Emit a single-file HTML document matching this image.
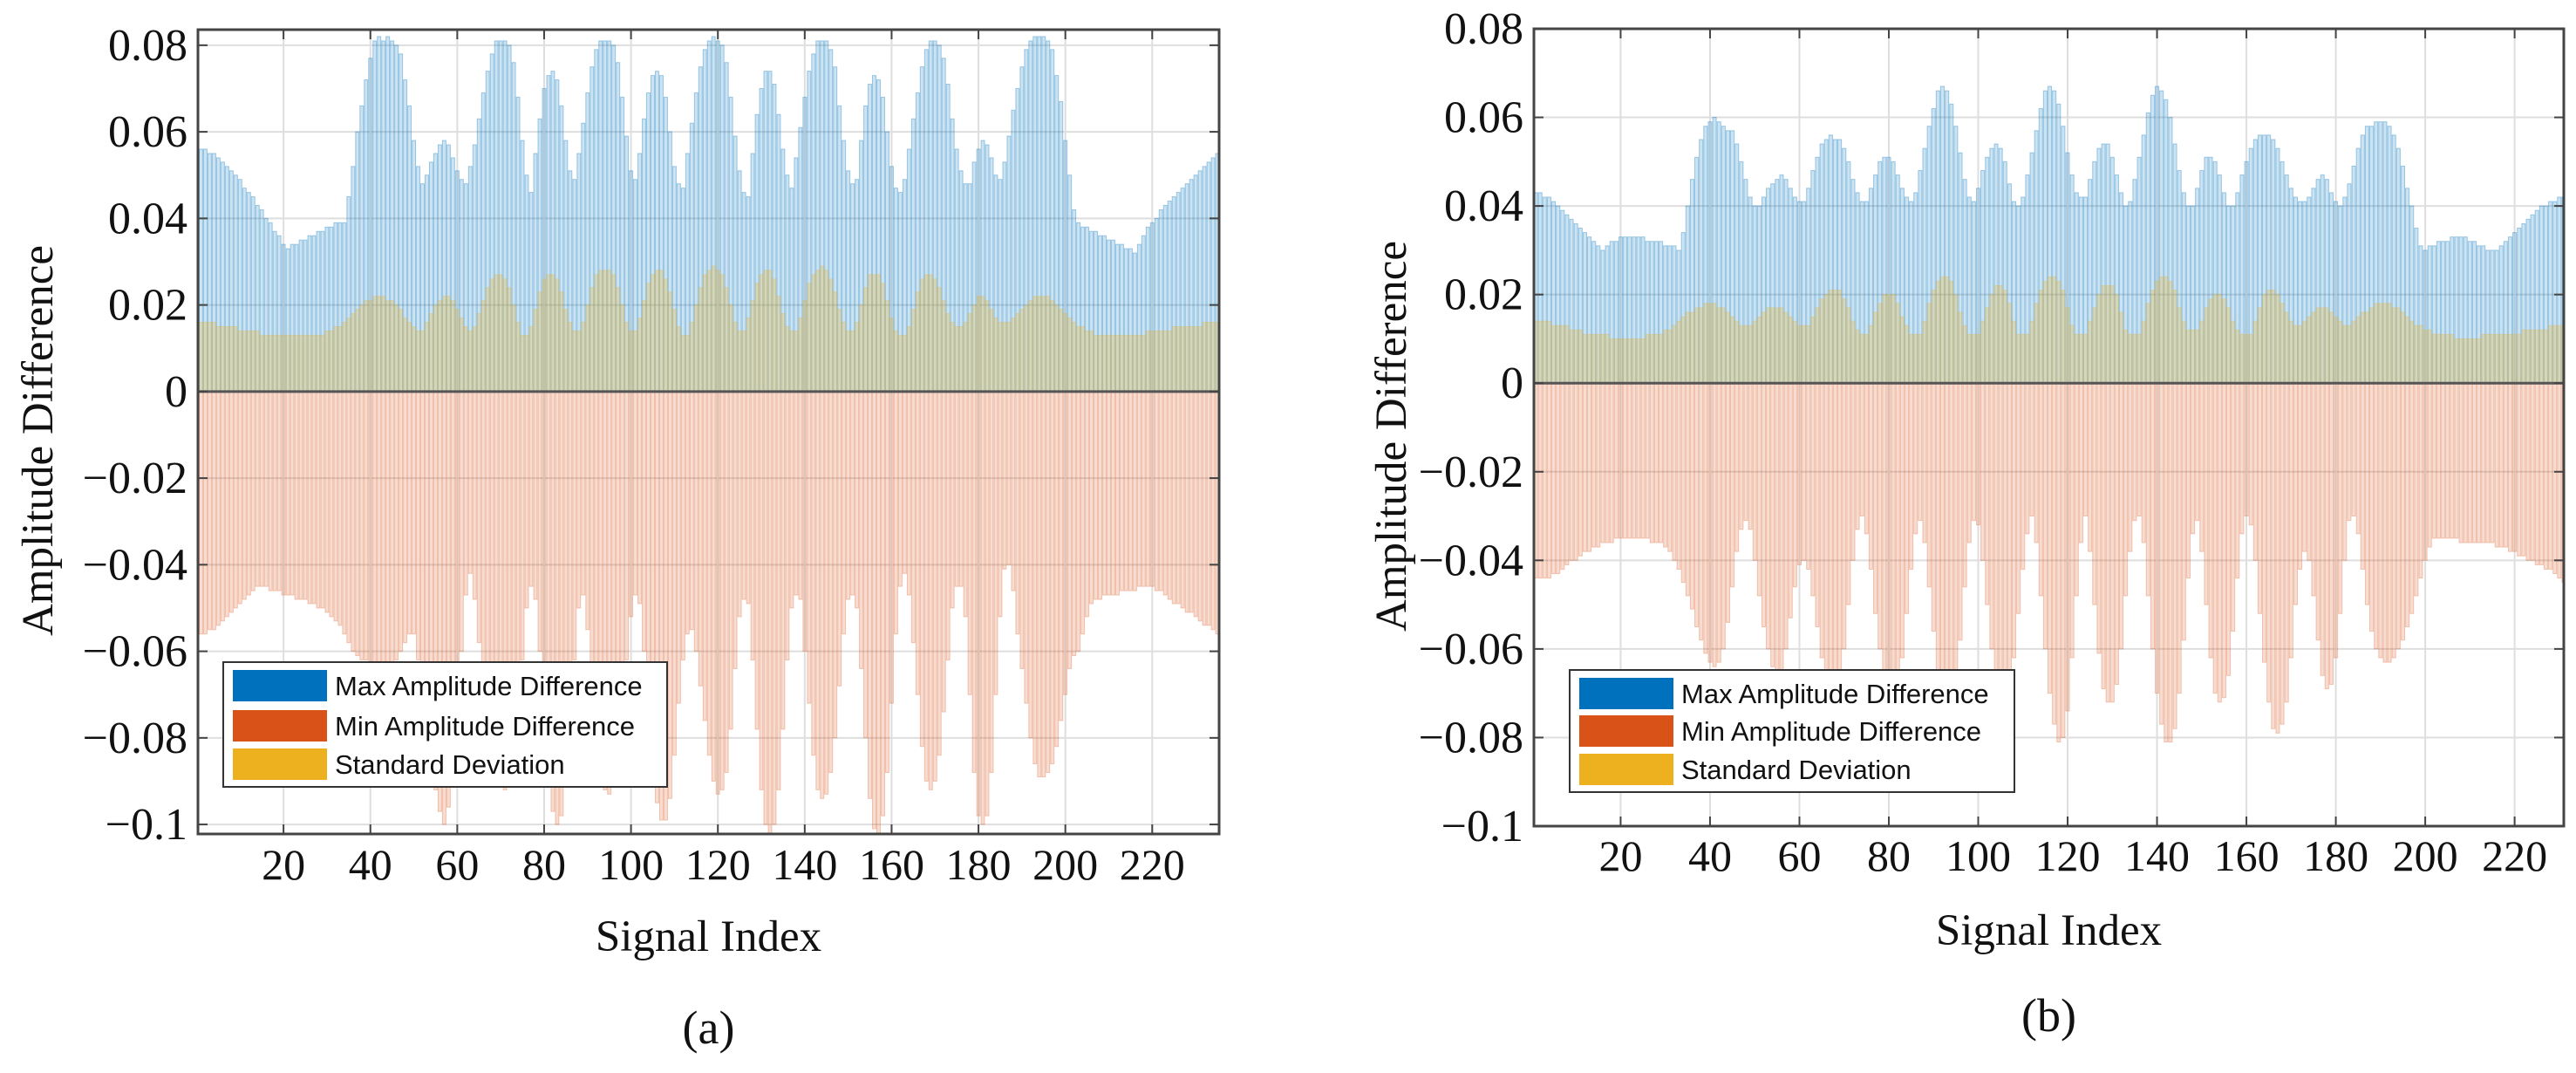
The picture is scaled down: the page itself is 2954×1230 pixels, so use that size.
<!DOCTYPE html>
<html><head><meta charset="utf-8">
<style>
html,body{margin:0;padding:0;background:#fff;}
svg{display:block;}
text{font-family:"Liberation Serif",serif;fill:#111;}
.leg{font-family:"Liberation Sans",sans-serif;}
</style></head>
<body>
<svg id="fig" xmlns="http://www.w3.org/2000/svg" width="2954" height="1230" viewBox="0 0 2954 1230">
<rect x="0" y="0" width="2954" height="1230" fill="#fff"/>
<g id="panelA"></g>
<g id="panelB"></g>
</svg>
<script>
const xTicks = [20,40,60,80,100,120,140,160,180,200,220];
const yTicks = [-0.1,-0.08,-0.06,-0.04,-0.02,0,0.02,0.04,0.06,0.08];
const yTickLabels = ["\u22120.1","\u22120.08","\u22120.06","\u22120.04","\u22120.02","0","0.02","0.04","0.06","0.08"];
const legendLabels = ["Max Amplitude Difference","Min Amplitude Difference","Standard Deviation"];

// Panel (a) values in units of 0.001
const maxA = [56,56,55,55,54,53,52,51,50,49,47,46,45,43,42,40,39,37,36,34,33,
34,34,35,35,36,36,37,37,38,38,39,39,39,
45,52,60,66,72,77,81,
82,81,82,81,80,78,
72,66,58,52,48,
50,53,55,57,58,
57,54,51,49,48,
52,57,63,69,74,78,81,
81,81,80,
76,68,58,50,46,
55,63,70,73,74,
72,66,58,51,49,
55,62,69,75,79,81,81,
81,80,76,
68,59,51,49,
55,63,69,73,74,73,
68,60,52,48,47,
55,62,69,75,79,81,82,
81,80,76,
68,59,51,46,45,
55,64,70,74,74,
71,64,56,50,47,
54,61,68,74,78,81,81,
81,79,75,
66,58,51,48,49,
58,66,71,73,72,68,
60,52,47,46,49,
56,63,69,75,79,81,81,
80,77,71,
63,56,51,48,48,
53,56,58,57,54,
50,49,53,59,65,
70,75,79,81,82,82,82,81,
79,73,67,58,50,42,
39,38,38,37,37,36,36,35,35,34,34,33,33,32,
34,36,38,39,40,42,43,44,45,46,47,48,49,50,51,52,53,54,55];
const minA = [56,56,55,55,54,53,52,51,50,49,48,47,
46,45,45,45,46,46,46,47,
47,47,48,48,48,49,49,50,50,51,52,53,
54,56,58,60,61,62,62,63,63,
63,64,64,64,62,60,58,56,56,
62,70,78,86,92,97,100,
96,88,75,60,47,42,
48,58,68,76,83,88,91,92,90,
84,74,62,50,45,48,
60,74,88,97,100,98,
90,78,62,50,47,
55,68,80,88,92,93,90,
84,74,62,52,47,49,
60,74,86,95,99,99,94,
84,72,62,56,55,
60,68,76,84,90,93,92,88,
78,64,52,48,49,
62,78,92,100,102,100,92,
78,62,50,47,48,
60,72,84,92,94,93,88,80,
68,56,48,47,50,
64,80,94,101,102,98,88,
72,56,45,42,47,
58,70,82,90,92,90,84,74,
62,50,45,45,52,
70,88,98,100,98,88,70,
52,41,40,46,56,
64,72,80,86,89,89,88,86,82,76,
70,64,61,60,56,52,49,
48,48,47,47,47,47,46,46,46,46,45,45,45,45,46,46,
47,48,49,49,50,51,51,52,53,54,54,55,56];
const stdA = [16,16,16,16,15,15,15,15,15,14,14,14,14,14,13,13,13,13,13,13,
13,13,13,13,13,13,13,13,13,14,14,15,15,16,
17,18,19,20,21,21,22,22,22,21,21,20,19,
17,16,15,14,14,
16,18,20,21,22,22,
21,19,17,15,14,
15,18,21,24,26,27,27,26,
24,20,16,13,13,
15,19,23,26,27,27,26,
23,19,16,14,14,
16,20,24,27,28,28,28,27,
24,20,16,14,14,
17,21,25,27,28,28,26,
23,19,15,13,13,
16,20,24,27,28,29,28,27,
24,20,16,14,14,
17,21,25,27,28,28,26,
22,18,15,14,14,
17,21,25,27,28,29,28,26,
23,19,16,14,14,
16,20,24,27,27,27,25,
21,17,14,13,13,
15,19,23,26,27,27,26,24,
21,18,16,15,15,16,
18,20,22,22,21,19,17,
16,16,16,17,18,
19,20,21,22,22,22,22,21,20,
19,18,17,16,15,15,14,14,13,13,13,13,13,13,13,
13,13,13,13,13,14,14,14,14,14,14,15,15,15,15,15,15,15,16,16,16,16];

// Panel (b) values in units of 0.001
const maxB = [43,43,42,42,41,40,39,38,37,36,35,34,33,32,31,30,
31,32,32,33,33,33,33,33,33,32,32,32,32,31,31,31,30,
34,40,46,51,55,58,59,60,59,
58,57,57,54,50,
46,42,40,40,42,
44,45,46,47,
46,44,42,41,41,
44,48,51,54,55,56,55,55,
53,50,46,43,41,41,
44,47,50,51,51,50,47,
44,42,41,43,
48,53,58,62,66,67,66,
63,58,52,46,42,41,
44,48,51,53,54,53,50,
45,41,40,42,
47,52,57,62,66,67,66,63,
58,52,47,43,42,42,
46,50,53,54,54,51,
47,43,40,41,
46,51,56,61,65,67,66,64,
60,54,48,43,40,40,
44,48,51,51,50,47,43,
40,40,43,47,
50,53,55,56,56,56,55,53,
50,47,44,42,41,41,42,
44,46,47,46,43,41,
40,42,45,49,53,
56,58,58,59,59,59,58,56,
53,49,44,40,35,31,30,
31,31,32,32,32,33,33,33,33,32,32,31,31,30,30,30,
31,32,33,34,35,36,37,38,39,40,40,41,41,42,42];
const minB = [44,44,44,44,43,43,42,41,40,40,
39,38,38,37,37,36,36,36,35,35,35,35,35,35,35,35,36,36,36,37,
38,40,42,45,48,51,55,58,61,63,64,
63,60,54,46,38,33,31,
33,40,48,55,60,64,66,65,
60,53,46,41,40,42,
48,55,62,67,70,70,67,
60,50,40,33,30,34,
42,52,60,66,70,71,69,
62,52,42,34,31,
36,46,56,65,72,75,74,
68,58,46,36,31,32,
40,50,60,67,71,72,69,
62,52,42,34,30,
36,48,60,70,77,81,80,
74,62,48,36,30,
38,50,61,69,72,72,68,
60,48,38,31,30,
36,48,60,70,77,81,81,78,
70,58,44,34,31,
38,50,62,70,72,71,66,
56,44,34,30,32,
40,52,63,72,78,79,77,72,
62,50,42,38,40,
48,58,66,69,68,62,52,
40,31,30,34,42,
50,56,60,62,63,63,62,60,58,55,52,
48,44,40,37,35,35,35,35,35,35,
36,36,36,36,36,36,36,36,37,37,37,38,38,39,39,40,40,41,41,42,42,43,44,45];
const stdB = [14,14,14,14,13,13,13,13,12,12,12,11,11,11,11,11,
11,10,10,10,10,10,10,10,10,11,11,11,11,12,12,13,14,
15,16,16,17,17,18,18,18,
17,17,16,15,14,13,13,13,
14,15,16,17,17,17,17,
16,15,14,13,13,13,
15,17,19,20,21,21,21,
19,17,14,12,11,11,
13,16,18,20,20,20,
18,15,13,11,11,11,
14,18,21,23,24,24,23,
20,16,13,11,11,11,
14,17,20,22,22,21,
18,14,11,11,11,
14,18,21,23,24,24,23,21,
17,13,11,11,11,
14,17,20,22,22,22,20,
16,12,11,11,11,
14,18,21,23,24,24,23,21,
17,14,12,12,12,
14,17,19,20,20,19,17,
14,12,11,11,11,
14,17,20,21,21,20,18,
16,14,13,13,14,15,
16,17,17,17,16,15,14,
13,13,14,15,16,
16,17,18,18,18,18,17,17,16,15,
14,13,13,12,12,11,11,11,11,11,10,10,10,10,10,10,11,11,11,11,
11,11,11,11,11,12,12,12,12,12,12,13,13,13,13];

const NS = "http://www.w3.org/2000/svg";
function mk(parent, tag, attrs) {
  const e = document.createElementNS(NS, tag);
  for (const k in attrs) e.setAttribute(k, attrs[k]);
  parent.appendChild(e);
  return e;
}

function drawPanel(g, cfg, maxV, minV, stdV, tag) {
  const L = cfg.left, R = cfg.right, T = cfg.top, B = cfg.bottom;
  const xs = v => L + (v - cfg.xmin) / (cfg.xmax - cfg.xmin) * (R - L);
  const ys = v => B - (v - cfg.ymin) / (cfg.ymax - cfg.ymin) * (B - T);
  const clipId = "clip" + tag;
  const defs = mk(g, "defs", {});
  const cp = mk(defs, "clipPath", {id: clipId});
  mk(cp, "rect", {x: L, y: T, width: R - L, height: B - T});

  const grid = mk(g, "g", {});
  
  
  xTicks.forEach(t => {
    const ln = mk(grid, "line", {x1: xs(t), x2: xs(t), y1: T, y2: B, stroke: "#dedede", "stroke-width": 2});
    
    
  });
  yTicks.forEach(t => {
    const ln = mk(grid, "line", {x1: L, x2: R, y1: ys(t), y2: ys(t), stroke: "#dedede", "stroke-width": 2});
    
    
  });

  const bw = 0.8;
  const series = [
    {arr: maxV, sign: 1, col: "#0072BD", name: "max-bar", fo: 0.2, so: 0.35},
    {arr: minV, sign: -1, col: "#D95319", name: "min-bar", fo: 0.2, so: 0.3},
    {arr: stdV, sign: 1, col: "#EDB120", name: "std-bar", fo: 0.25, so: 0.3}
  ];
  series.forEach(s => {
    const sg = mk(g, "g", {"clip-path": "url(#" + clipId + ")"});
    
    
    s.arr.forEach((v, i) => {
      const idx = i + 1;
      const val = s.sign * v / 1000;
      const x0 = xs(idx - bw / 2), x1 = xs(idx + bw / 2);
      const y0 = ys(Math.max(val, 0)), y1 = ys(Math.min(val, 0));
      const r = mk(sg, "rect", {x: x0, y: y0, width: x1 - x0, height: Math.max(0, y1 - y0),
        fill: s.col, "fill-opacity": s.fo, stroke: s.col, "stroke-opacity": s.so, "stroke-width": 1});
      
      
    });
  });

  const z = mk(g, "line", {x1: L, x2: R, y1: ys(0), y2: ys(0), stroke: "#555", "stroke-width": 3});
  
  

  const fr = mk(g, "rect", {x: L, y: T, width: R - L, height: B - T, fill: "none", stroke: "#444", "stroke-width": 3});
  
  

  const xt = mk(g, "g", {});
  
  
  xTicks.forEach(t => {
    mk(xt, "line", {x1: xs(t), x2: xs(t), y1: B, y2: B - 11, stroke: "#444", "stroke-width": 2});
    mk(xt, "line", {x1: xs(t), x2: xs(t), y1: T, y2: T + 11, stroke: "#444", "stroke-width": 2});
    const tx = mk(xt, "text", {x: xs(t), y: cfg.xLabelY, "font-size": 50, "text-anchor": "middle"});
    tx.textContent = String(t);
    
    
  });
  const yt = mk(g, "g", {});
  
  
  yTicks.forEach((t, i) => {
    mk(yt, "line", {x1: L, x2: L + 11, y1: ys(t), y2: ys(t), stroke: "#444", "stroke-width": 2});
    mk(yt, "line", {x1: R, x2: R - 11, y1: ys(t), y2: ys(t), stroke: "#444", "stroke-width": 2});
    const tx = mk(yt, "text", {x: L - 12, y: ys(t) + 17, "font-size": 52, "text-anchor": "end"});
    tx.textContent = yTickLabels[i];
    
    
  });

  const xl = mk(g, "text", {x: (L + R) / 2, y: cfg.xTitleY, "font-size": 51, "text-anchor": "middle"});
  xl.textContent = "Signal Index";
  
  
  const yl = mk(g, "text", {x: 0, y: 0, "font-size": 51, "text-anchor": "middle",
    transform: "translate(" + cfg.yTitleX + "," + cfg.yTitleY + ") rotate(-90)"});
  yl.textContent = "Amplitude Difference";
  
  
  const cap = mk(g, "text", {x: (L + R) / 2, y: cfg.capY, "font-size": 54, "text-anchor": "middle"});
  cap.textContent = cfg.caption;
  
  

  const lg = mk(g, "g", {});
  
  
  const lb = cfg.legend;
  mk(lg, "rect", {x: lb.x, y: lb.y, width: lb.w, height: lb.h, fill: "#fff", stroke: "#333", "stroke-width": 2});
  const cols = ["#0072BD", "#D95319", "#EDB120"];
  legendLabels.forEach((lab, i) => {
    const cy = lb.rows[i];
    const sw = mk(lg, "rect", {x: lb.x + 11, y: cy - 18, width: 108, height: 36, fill: cols[i]});
    
    
    const tx = mk(lg, "text", {x: lb.x + 128, y: cy + 11, "font-size": 31, "class": "leg"});
    tx.textContent = lab;
    
    
  });
}

drawPanel(document.getElementById("panelA"), {
  left: 227, right: 1398, top: 34, bottom: 956,
  xmin: 0.3, xmax: 235.4, ymin: -0.1022, ymax: 0.0836,
  xLabelY: 1008, xTitleY: 1090, yTitleX: 60, yTitleY: 505, capY: 1196, caption: "(a)",
  legend: {x: 256, y: 759, w: 509, h: 143, rows: [786, 832, 876]}
}, maxA, minA, stdA, "a");

drawPanel(document.getElementById("panelB"), {
  left: 1759, right: 2940, top: 33, bottom: 947,
  xmin: 0.6, xmax: 231, ymin: -0.1, ymax: 0.08,
  xLabelY: 998, xTitleY: 1083, yTitleX: 1612, yTitleY: 500, capY: 1182, caption: "(b)",
  legend: {x: 1800, y: 768, w: 510, h: 140, rows: [795, 838, 882]}
}, maxB, minB, stdB, "b");
</script>
</body></html>
